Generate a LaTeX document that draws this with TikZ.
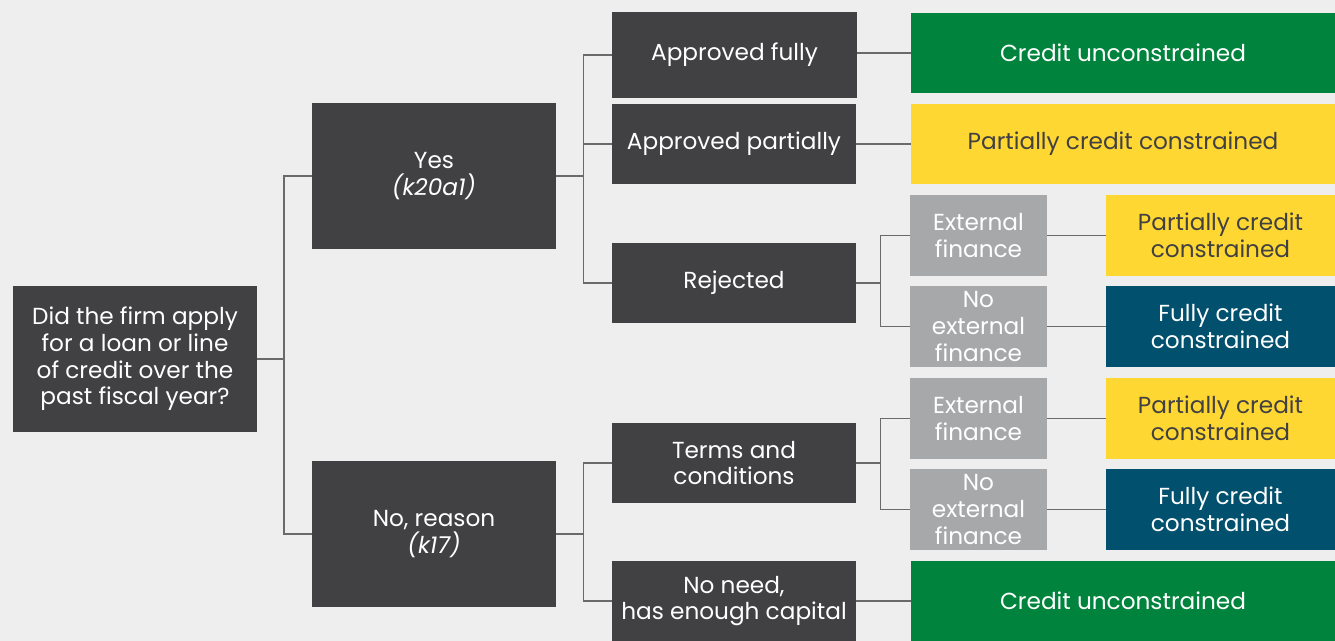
\documentclass[tikz,border=0pt]{standalone}
\usepackage{fontspec}
\setmainfont{Poppins}
\usepackage{tikz}
\usetikzlibrary{positioning}
\definecolor{bggray}{HTML}{EEEEEE}
\definecolor{darkbox}{HTML}{414042}
\definecolor{lightbox}{HTML}{A7A8AA}
\definecolor{okgreen}{HTML}{00843D}
\definecolor{partyellow}{HTML}{FFD732}
\definecolor{fullblue}{HTML}{00506E}
\definecolor{linkgray}{HTML}{6A6A6A}

\begin{document}
\begin{tikzpicture}[
    x = 0.02cm, y = -0.02cm,
    every node/.style = {
      inner sep = 0, outer sep = 0,
      align = center,
      font = \fontsize{13.2}{15.2}\selectfont,
    },
    question/.style = {
      fill = darkbox, text = white,
      minimum width = 4.9cm, minimum height = 1.62cm,
    },
    finance/.style = {
      fill = lightbox, text = white,
      minimum width = 2.74cm, minimum height = 1.62cm,
    },
    outcome/.style = {
      fill = #1, text = white,
      minimum width = 4.58cm, minimum height = 1.62cm,
    },
    wideoutcome/.style = {
      outcome = #1,
      minimum width = 8.48cm,
    },
    link/.style = {
      draw = linkgray, line width = 0.85pt,
    },
  ]
  \useasboundingbox[fill = bggray] (0,0) rectangle (1335,641);

  % first question and the two answers
  \node[question, minimum width = 4.88cm, minimum height = 2.94cm]
    (apply) at (135,359)
    {Did the firm apply\\for a loan or line\\of credit over the\\past fiscal year?};
  \node[question, minimum height = 2.92cm] (yes) at (434,176)
    {Yes\\\textit{(k20a1)}};
  \node[question, minimum height = 2.92cm] (noreason) at (434,534)
    {No, reason\\\textit{(k17)}};

  % answers after applying
  \node[question, minimum height = 1.72cm] (apfull) at (734.5,55) {Approved fully};
  \node[question] (appart) at (734,144) {Approved partially};
  \node[question] (rejected) at (734,283) {Rejected};

  % reasons for not applying
  \node[question] (terms) at (734,463) {Terms and\\conditions};
  \node[question, minimum height = 1.6cm] (noneed) at (734,601)
    {No need,\\has enough capital};

  % external finance
  \node[finance] (ext-a) at (978.5,235.5) {External\\finance};
  \node[finance] (noext-a) at (978.5,326.5) {No\\external\\finance};
  \node[finance] (ext-b) at (978.5,418.5) {External\\finance};
  \node[finance] (noext-b) at (978.5,509.5) {No\\external\\finance};

  % outcomes
  \node[wideoutcome = okgreen] (unc-a) at (1123,53) {Credit unconstrained};
  \node[wideoutcome = partyellow, text = darkbox] (part-0) at (1123,144)
    {Partially credit constrained};
  \node[outcome = partyellow, text = darkbox] (part-a) at (1220.5,235.5)
    {Partially credit\\constrained};
  \node[outcome = fullblue] (full-a) at (1220.5,326.5) {Fully credit\\constrained};
  \node[outcome = partyellow, text = darkbox] (part-b) at (1220.5,418.5)
    {Partially credit\\constrained};
  \node[outcome = fullblue] (full-b) at (1220.5,509.5) {Fully credit\\constrained};
  \node[wideoutcome = okgreen, minimum height = 1.6cm] (unc-b) at (1123,601)
    {Credit unconstrained};

  % connectors
  \draw[link] (apply.east) -- ++(27,0) coordinate (fork-apply);
  \draw[link] (fork-apply) |- (yes.west);
  \draw[link] (fork-apply) |- (noreason.west);

  \draw[link] (yes.east) -- ++(27,0) coordinate (fork-yes);
  \foreach \child in {apfull,appart,rejected}
    \draw[link] (fork-yes) |- (\child.west);

  \draw[link] (noreason.east) -- ++(27,0) coordinate (fork-no);
  \foreach \child in {terms,noneed}
    \draw[link] (fork-no) |- (\child.west);

  \draw[link] (rejected.east) -- ++(24,0) coordinate (fork-rej);
  \draw[link] (fork-rej) |- (ext-a.west);
  \draw[link] (fork-rej) |- (noext-a.west);

  \draw[link] (terms.east) -- ++(24,0) coordinate (fork-terms);
  \draw[link] (fork-terms) |- (ext-b.west);
  \draw[link] (fork-terms) |- (noext-b.west);

  \draw[link] (apfull.east |- unc-a.west) -- (unc-a.west);
  \draw[link] (appart) -- (part-0);
  \draw[link] (ext-a) -- (part-a);
  \draw[link] (noext-a) -- (full-a);
  \draw[link] (ext-b) -- (part-b);
  \draw[link] (noext-b) -- (full-b);
  \draw[link] (noneed) -- (unc-b);
\end{tikzpicture}
\end{document}
